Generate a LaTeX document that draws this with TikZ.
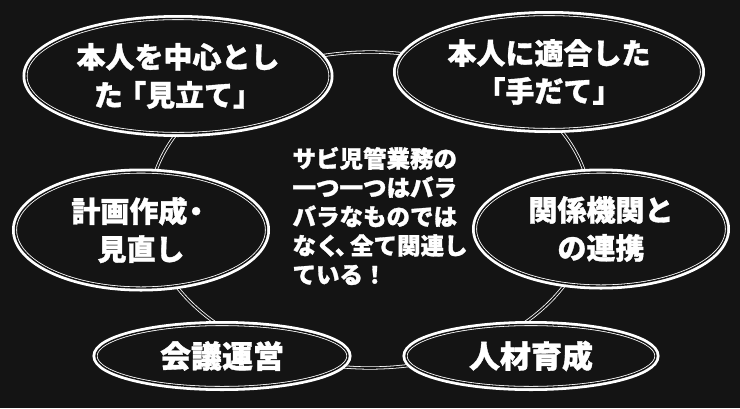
\documentclass[tikz,border=0pt]{standalone}
\usepackage{fontspec}
\usepackage{xcolor}
\usepackage{tikz}
\usetikzlibrary{shapes.geometric}
\newfontfamily\jpfont{Noto Sans CJK JP}[BoldFeatures={FakeBold=1.2}]
\definecolor{board}{RGB}{20,20,20}

\begin{document}
\begin{tikzpicture}[x=1pt, y=-1pt,
  bubble/.style={ellipse, fill=board, draw=white, line width=0.8pt,
    double=board, double distance=1.4pt, inner sep=0pt, align=center,
    text=white, font=\jpfont\bfseries\fontsize{29}{38}\selectfont,
    preaction={draw=white, line width=7pt}},
  small/.style={font=\jpfont\bfseries\fontsize{31}{38}\selectfont},
  ring/.style={draw=white, line width=0.8pt, double=board, double distance=1.6pt}]
\fill[board] (0,0) rectangle (740,408);

% the ring behind all bubbles
\coordinate (hub) at (370,210);
\draw[ring] (hub) ellipse (221pt and 158pt);

\node[bubble, minimum width=304pt, minimum height=115pt] (mitate) at (178,76) {本人を中心とし\\た\kern-0.2em「見立て」};
\node[bubble, minimum width=305pt, minimum height=115pt] (tedate) at (549,72) {本人に適合した\\「手だて」};
\node[bubble, minimum width=251pt, minimum height=116pt] (keikaku) at (141,230) {計画作成\kern-0.2em・\\見直し};
\node[bubble, minimum width=251pt, minimum height=114pt] (renkei) at (601,229) {関係機関と\\の連携};
\node[bubble, small, minimum width=252pt, minimum height=63pt] (kaigi) at (222,356) {会議運営};
\node[bubble, small, minimum width=250pt, minimum height=63pt] (jinzai) at (531,356) {人材育成};

\node[anchor=west, align=left, text=white, font=\jpfont\bfseries\fontsize{23.5}{29}\selectfont] (note) at (289,216)
  {サビ児管業務の\\一つ一つはバラ\\バラなものでは\\なく\kern-0.2em、\kern-0.35em 全て関連し\\ている！};
\end{tikzpicture}
\end{document}
